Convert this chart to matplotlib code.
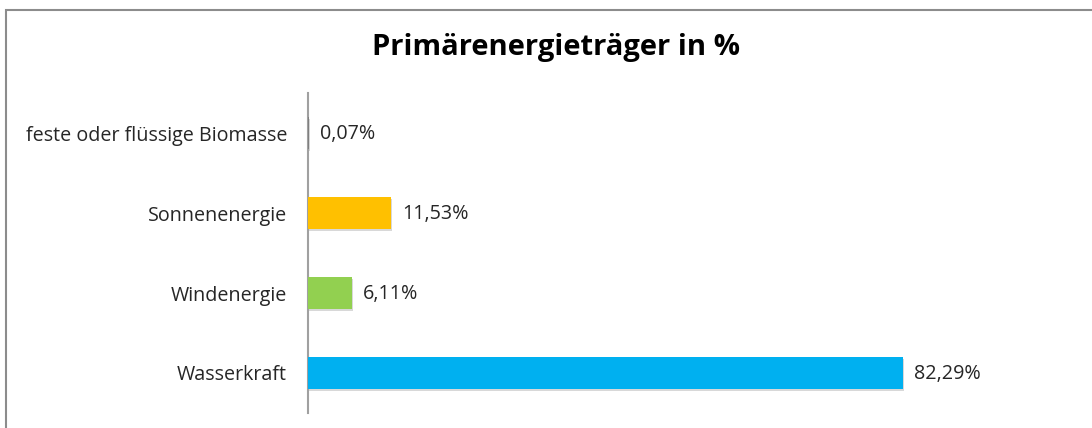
import matplotlib
matplotlib.use('Agg')
import matplotlib.pyplot as plt
import matplotlib.patheffects as pe
from matplotlib.patches import Rectangle

# Primärenergieträger, bottom to top as drawn
categories = ['Wasserkraft', 'Windenergie', 'Sonnenenergie', 'feste oder flüssige Biomasse']
values = [82.29, 6.11, 11.53, 0.07]
value_labels = ['82,29%', '6,11%', '11,53%', '0,07%']
colors = ['#00B0F0', '#92D050', '#FFC000', '#7F7F7F']

plt.rcParams['font.family'] = ['Open Sans', 'DejaVu Sans']

fig = plt.figure(figsize=(10.92, 4.28), dpi=100)

# chart frame (runs off to the right and bottom like the reference)
fig.patches.append(Rectangle((6 / 1092, -0.05), 1.1, (428 - 10) / 428 + 0.05,
                             transform=fig.transFigure, fill=False,
                             edgecolor='#8C8C8C', linewidth=1.5))

ax = fig.add_axes([308 / 1092, 15 / 428, 723 / 1092, 320 / 428])

shadow = [pe.SimplePatchShadow(offset=(0.8, -1.5), shadow_rgbFace='#AAAAAA', alpha=0.45), pe.Normal()]
bars = ax.barh(range(len(categories)), values, height=0.39, color=colors, zorder=3)
for b in bars:
    b.set_path_effects(shadow)

for i, (v, lab) in enumerate(zip(values, value_labels)):
    ax.annotate(lab, xy=(v, i), xytext=(8, -0.5), textcoords='offset points',
                va='center', ha='left', fontsize=14.2, color='#262626')

ax.set_xlim(0, 100)
ax.set_ylim(-0.5, len(categories) - 0.5)
ax.set_yticks(range(len(categories)))
ax.set_yticklabels(categories, fontsize=14.2, color='#262626')
ax.tick_params(axis='y', length=0, pad=15)
ax.set_xticks([])
for s in ['top', 'right', 'bottom']:
    ax.spines[s].set_visible(False)
ax.spines['left'].set_color('#A0A0A0')
ax.spines['left'].set_linewidth(1.5)

fig.text(556 / 1092, 1 - 48 / 428, 'Primärenergieträger in %', ha='center', va='center',
         fontsize=21, fontweight='bold', color='#000000')

fig.savefig('out.png', dpi=100)
